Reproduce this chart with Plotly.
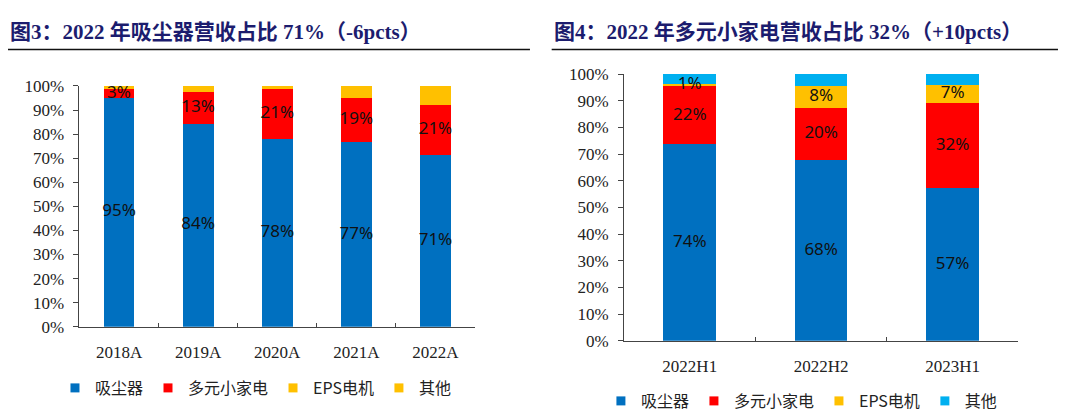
import plotly.graph_objects as go

# 图3：年度营收结构（%）
years = ["2018A", "2019A", "2020A", "2021A", "2022A"]
vac_y = [95.2, 84.3, 78.1, 76.6, 71.2]
appl_y = [3.4, 13.4, 20.7, 18.6, 20.9]
eps_y = [0, 0, 0, 0, 0]
other_y = [1.4, 2.3, 1.2, 4.8, 7.9]

# 图4：半年度营收结构（%）
halves = ["2022H1", "2022H2", "2023H1"]
vac_h = [73.6, 67.6, 57.1]
appl_h = [21.8, 19.8, 32.1]
eps_h = [0.8, 8.0, 6.7]
other_h = [3.8, 4.6, 4.1]

names = ["吸尘器", "多元小家电", "EPS电机", "其他"]
colors_left = ["#0070C0", "#FF0000", "#FFC000", "#FFC000"]
colors_right = ["#0070C0", "#FF0000", "#FFC000", "#00B0F0"]

SERIF = "Liberation Serif, Noto Sans CJK SC, serif"
LABEL_FONT = dict(family="Noto Sans, sans-serif", size=17, color="#111111")

fig = go.Figure()


def add_stack(cats, sets, colors, labelled, xa, ya, leg, bar_w):
    base = [0] * len(cats)
    for name, vals, col, show in zip(names, sets, colors, labelled):
        fig.add_trace(go.Bar(
            x=cats, y=vals, name=name, marker=dict(color=col, line=dict(width=0)),
            width=bar_w, xaxis=xa, yaxis=ya, showlegend=False, hoverinfo="skip",
        ))
        # small square legend keys, like the source chart
        fig.add_trace(go.Scatter(
            x=[None], y=[None], name=name, mode="markers",
            marker=dict(symbol="square", size=9, color=col),
            xaxis=xa, yaxis=ya, legend=leg, hoverinfo="skip",
        ))
        if show:
            # labels as a text layer on top so small segments are not covered
            fig.add_trace(go.Scatter(
                x=cats, y=[b + v / 2 for b, v in zip(base, vals)],
                text=[f"{v:.0f}%" for v in vals], mode="text", textfont=LABEL_FONT,
                xaxis=xa, yaxis=ya, showlegend=False, hoverinfo="skip",
            ))
        base = [b + v for b, v in zip(base, vals)]


add_stack(years, [vac_y, appl_y, eps_y, other_y], colors_left,
          [True, True, False, False], "x", "y", "legend", 0.39)
add_stack(halves, [vac_h, appl_h, eps_h, other_h], colors_right,
          [True, True, True, False], "x2", "y2", "legend2", 0.4)

axis_font = dict(family=SERIF, size=17, color="#222222")
xcommon = dict(showline=True, linecolor="#444444", linewidth=1, ticks="inside",
               ticklen=4, tickcolor="#444444", tickson="boundaries",
               tickfont=axis_font, ticklabelstandoff=10, showgrid=False,
               zeroline=False, fixedrange=True)
ycommon = dict(range=[0, 100], dtick=10, ticksuffix="%", showline=True,
               linecolor="#444444", linewidth=1, ticks="outside", ticklen=5,
               tickcolor="#444444", tickfont=axis_font, ticklabelstandoff=6,
               showgrid=False, zeroline=False, fixedrange=True)

legend_common = dict(orientation="h", xanchor="left", yanchor="middle",
                     font=dict(family="Noto Sans CJK SC, sans-serif", size=16, color="#222222"),
                     itemsizing="trace", itemwidth=30, bgcolor="rgba(0,0,0,0)",
                     traceorder="normal")

title_font = dict(family=SERIF, size=21, color="#1C1C6E")

# the page adds an 8px body margin, so everything is placed 8px up/left
fig.update_layout(
    width=1080, height=418,
    margin=dict(l=0, r=0, t=0, b=0, autoexpand=False),
    paper_bgcolor="white", plot_bgcolor="white",
    barmode="stack", showlegend=True,
    xaxis=dict(domain=[0.0662, 0.4324], anchor="y", **xcommon),
    yaxis=dict(domain=[0.2376, 0.8134], anchor="x", **ycommon),
    xaxis2=dict(domain=[0.5704, 0.9355], anchor="y2", **xcommon),
    yaxis2=dict(domain=[0.2041, 0.8421], anchor="x2", **ycommon),
    legend=dict(x=0.0435, y=0.0909, **legend_common),
    legend2=dict(x=0.549, y=0.0598, **legend_common),
    annotations=[
        dict(text="<b>图3：2022 年吸尘器营收占比 71%（-6pcts）</b>", xref="paper", yref="paper",
             x=0.0, y=0.9433, xanchor="left", yanchor="middle", showarrow=False, font=title_font),
        dict(text="<b>图4：2022 年多元小家电营收占比 32%（+10pcts）</b>", xref="paper", yref="paper",
             x=0.5037, y=0.9433, xanchor="left", yanchor="middle", showarrow=False, font=title_font),
    ],
    shapes=[
        dict(type="line", xref="paper", yref="paper", x0=0.0, x1=0.4833, y0=0.9007, y1=0.9007,
             line=dict(color="#111111", width=1.5)),
        dict(type="line", xref="paper", yref="paper", x0=0.5034, x1=0.9722, y0=0.9007, y1=0.9007,
             line=dict(color="#111111", width=1.5)),
    ],
)

fig.write_html("out.html")
